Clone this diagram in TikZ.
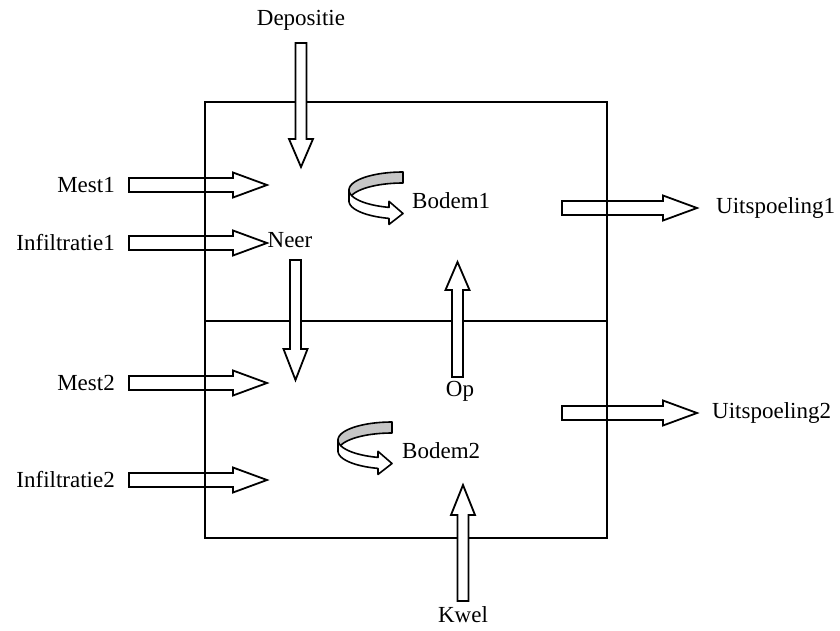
\documentclass[tikz,border=0pt]{standalone}
\usepackage{fontspec}
\setmainfont[Ligatures=NoCommon]{Liberation Serif}
\begin{document}
\begin{tikzpicture}[x=1pt,y=-1pt,
  boxline/.style={line width=2pt},
  blockarrow/.style={draw=black,fill=white,line width=1.8pt,line join=miter},
  curvline/.style={draw=black,line width=1.6pt,line join=round},
  lbl/.style={font=\fontsize{23}{27}\selectfont,inner sep=0pt}]
\useasboundingbox (0,0) rectangle (840,630);
% horizontal block arrow: x0, xhead, xtip, yc
\newcommand\hblock[4]{%
  \draw[blockarrow] (#1,#4-7) -- (#2,#4-7) -- (#2,#4-12.5) -- (#3,#4) -- (#2,#4+12.5) -- (#2,#4+7) -- (#1,#4+7) -- cycle;}
% vertical block arrow: xc, y0, yhead, ytip
\newcommand\vblock[4]{%
  \draw[blockarrow] (#1-5.5,#2) -- (#1-5.5,#3) -- (#1-12,#3) -- (#1,#4) -- (#1+12,#3) -- (#1+5.5,#3) -- (#1+5.5,#2) -- cycle;}
% curved ribbon arrow: cx, cy
\newcommand\curvarrow[2]{%
  \filldraw[curvline,fill=gray!45] plot[domain=270:180,samples=40] ({#1+54*cos(\x)},{#2+18*sin(\x)})
     -- plot[domain=180:270,samples=40] ({#1+54*cos(\x)},{#2+11+18*sin(\x)}) -- cycle;
  \filldraw[curvline,fill=white] plot[domain=180:105,samples=40] ({#1+54*cos(\x)},{#2+18*sin(\x)})
     -- ({#1+54*cos(105)},{#2+18*sin(105)-6})
     -- (#1,#2+23.5)
     -- ({#1+54*cos(105)},{#2+11+18*sin(105)+6})
     -- plot[domain=105:180,samples=40] ({#1+54*cos(\x)},{#2+11+18*sin(\x)}) -- cycle;}

% horizontal arrows (box lines show through them)
\hblock{129}{233}{267}{185}
\hblock{129}{233}{267}{243}
\hblock{129}{233}{267}{383}
\hblock{129}{233}{267}{480}
\hblock{562}{663}{697}{208}
\hblock{562}{663}{697}{413}

% box
\coordinate (tl) at (205,102);
\coordinate (br) at (607,538);
\coordinate (ml) at (205,321);
\coordinate (mr) at (607,321);
\draw[boxline] (tl) rectangle (br);
\draw[boxline] (ml) -- (mr);

% vertical arrows (on top of box lines)
\vblock{301}{43}{139}{167}
\vblock{295.5}{260}{349}{380}
\vblock{457.5}{377}{290}{262}
\vblock{463}{601}{515}{485}

% curved arrows
\curvarrow{403}{190}
\curvarrow{392}{440}

% labels
\node[lbl] (dep) at (301,20) {Depositie};
\node[lbl,anchor=east] (m1) at (115,185) {Mest1};
\node[lbl,anchor=east] (i1) at (115,243) {Infiltratie1};
\node[lbl,anchor=east] (m2) at (115,383) {Mest2};
\node[lbl,anchor=east] (i2) at (115,480) {Infiltratie2};
\node[lbl] (neer) at (290,240) {Neer};
\node[lbl] (op) at (460,391) {Op};
\node[lbl,anchor=west] (b1) at (412,201) {Bodem1};
\node[lbl,anchor=west] (b2) at (402,451) {Bodem2};
\node[lbl,anchor=west] (u1) at (716,208) {Uitspoeling1};
\node[lbl,anchor=west] (u2) at (712,413) {Uitspoeling2};
\node[lbl] (kwel) at (463,615) {Kwel};
\end{tikzpicture}
\end{document}
